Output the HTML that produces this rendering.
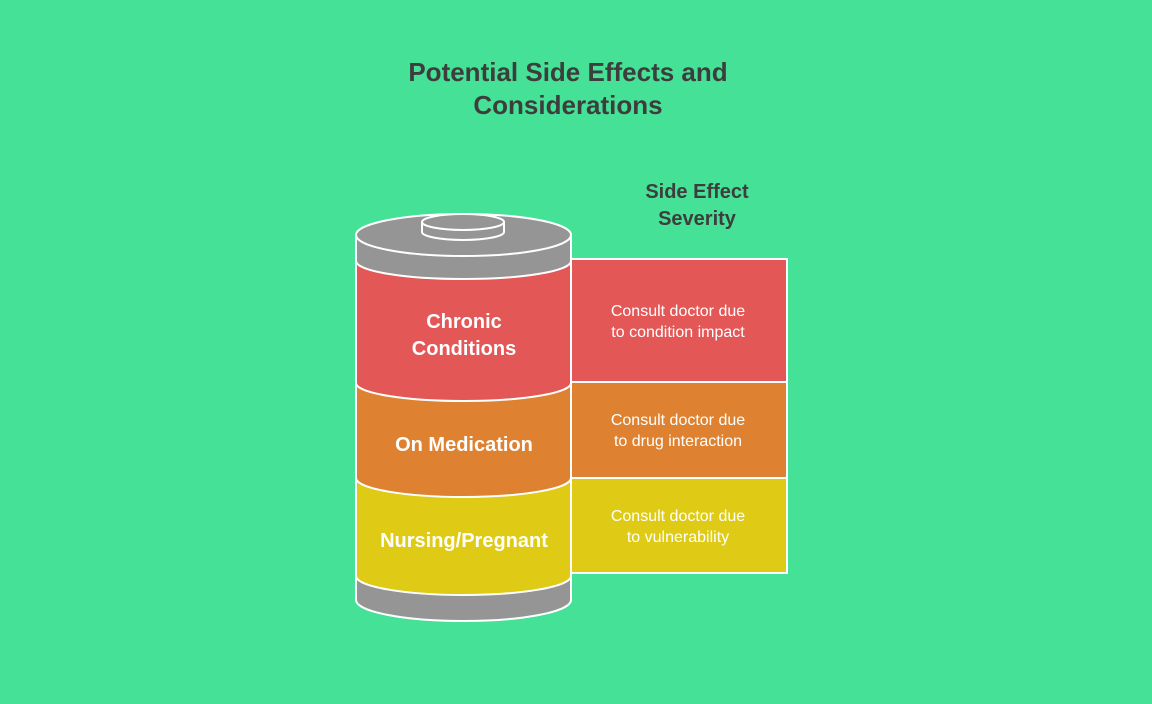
<!DOCTYPE html>
<html><head><meta charset="utf-8"><style>
html,body{margin:0;padding:0;background:#45E196;}
svg{display:block;font-family:"Liberation Sans",Arial,sans-serif;}
</style></head><body>
<svg width="1152" height="704" viewBox="0 0 1152 704">
<rect width="1152" height="704" fill="#45E196"/>
<g font-weight="bold" fill="#3d3d3d" text-anchor="middle">
<text x="568" y="81" font-size="26">Potential Side Effects and</text>
<text x="568" y="114" font-size="26">Considerations</text>
<text x="697" y="198" font-size="20">Side Effect</text>
<text x="697" y="225" font-size="20">Severity</text>
</g>
<g stroke="#fff" stroke-width="2">
<rect x="571" y="259" width="216" height="123" fill="#E45757"/>
<rect x="571" y="382" width="216" height="96" fill="#DE8231"/>
<rect x="571" y="478" width="216" height="95" fill="#DFCB16"/>
<path d="M356 578 V600 A107.5 21 0 0 0 571 600 V578 Z" fill="#959595"/>
<path d="M356 480 V576 A107.5 19 0 0 0 571 576 V480 Z" fill="#DFCB16"/>
<path d="M356 385 V478 A107.5 19 0 0 0 571 478 V385 Z" fill="#DE8231"/>
<path d="M356 262 V383 A107.5 18 0 0 0 571 383 V262 Z" fill="#E45757"/>
<path d="M356 236 V261 A107.5 18 0 0 0 571 261 V236 Z" fill="#959595"/>
<ellipse cx="463.5" cy="235" rx="107.5" ry="21" fill="#959595"/>
<path d="M422 222 V232 A41 8 0 0 0 504 232 V222 Z" fill="#959595"/>
<ellipse cx="463" cy="222" rx="41" ry="8" fill="#959595"/>
</g>
<g fill="#fff" font-weight="bold" text-anchor="middle" font-size="20">
<text x="464" y="328">Chronic</text>
<text x="464" y="355">Conditions</text>
<text x="464" y="451">On Medication</text>
<text x="464" y="547">Nursing/Pregnant</text>
</g>
<g fill="#fff" text-anchor="middle" font-size="16">
<text x="678" y="316">Consult doctor due</text>
<text x="678" y="337">to condition impact</text>
<text x="678" y="425">Consult doctor due</text>
<text x="678" y="446">to drug interaction</text>
<text x="678" y="521">Consult doctor due</text>
<text x="678" y="542">to vulnerability</text>
</g>
</svg>
</body></html>
